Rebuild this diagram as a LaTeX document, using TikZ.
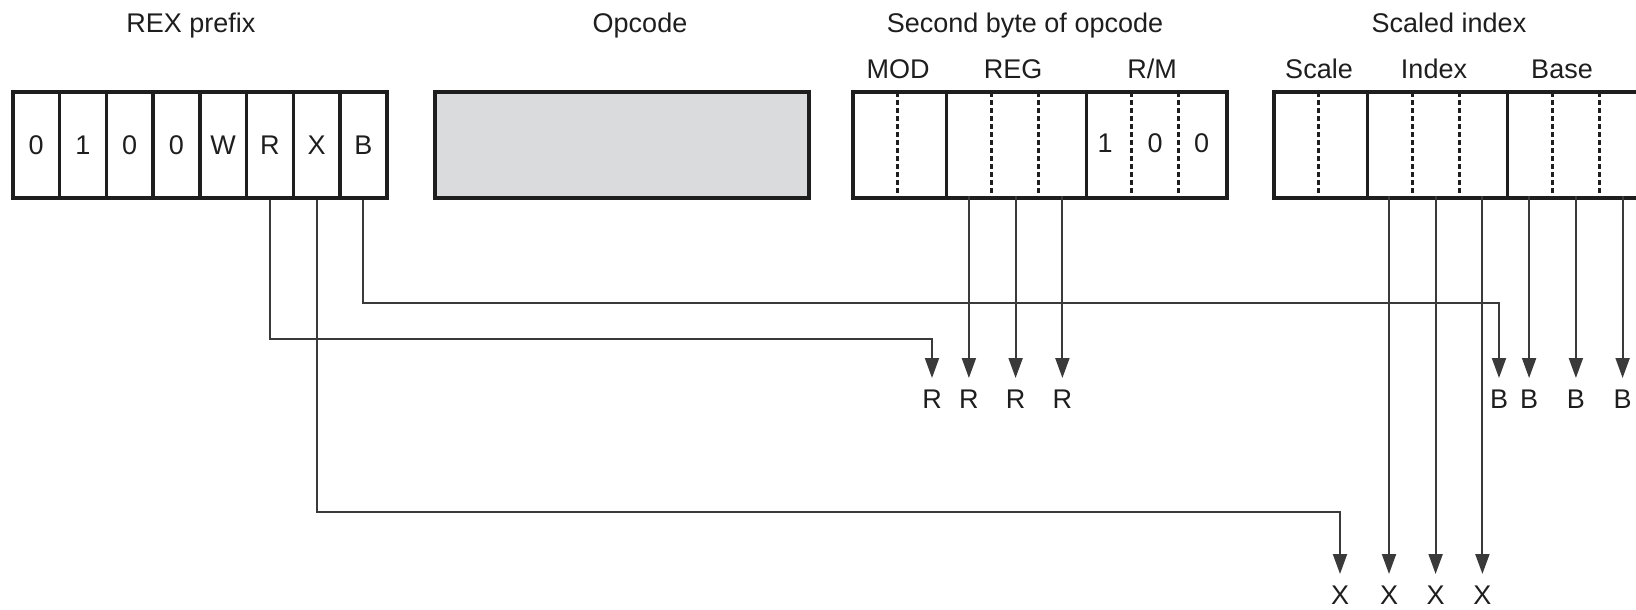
\documentclass[tikz,border=0pt]{standalone}
\usepackage{fontspec}
\setmainfont{Liberation Sans}
\usetikzlibrary{arrows.meta}
\definecolor{ink}{HTML}{1E1E1E}
\definecolor{wire}{HTML}{3A3A3A}
\definecolor{opfill}{HTML}{DADBDC}
\begin{document}
\begin{tikzpicture}[x=1pt,y=-1pt,
  every node/.style={font=\fontsize{27}{32}\selectfont, text=ink},
  cell/.style={draw=ink, line width=3.5pt, minimum width=46.75pt, minimum height=106pt, inner sep=0pt, anchor=north west},
  field/.style={cell, minimum width=#1},
  sep/.style={draw=ink, line width=3pt, dash pattern=on 5pt off 3pt},
  conn/.style={draw=wire, line width=2pt},
  arr/.style={conn, -{Triangle[length=20pt,width=14pt]}},
  lbl/.style={inner sep=0pt, outer ysep=11.5pt, anchor=north},
  ttl/.style={anchor=base},
]
\path[use as bounding box] (0,0) rectangle (1636,610);
\clip (0,0) rectangle (1636,610);

% titles
\node[ttl] (tRex) at (191,33) {REX prefix};
\node[ttl] (tOp) at (640,33) {Opcode};
\node[ttl] (tSec) at (1025,33) {Second byte of opcode};
\node[ttl] (tSib) at (1449,33) {Scaled index};
\node[ttl] (tMod) at (898,78) {MOD};
\node[ttl] (tReg) at (1013,78) {REG};
\node[ttl] (tRm) at (1152,78) {R/M};
\node[ttl] (tScale) at (1319,78) {Scale};
\node[ttl] (tIndex) at (1434,78) {Index};
\node[ttl] (tBase) at (1562,78) {Base};

% REX prefix
\foreach \t [count=\i] in {0,1,0,0,W,R,X,B}
  \node[cell] (r\i) at ({11+(\i-1)*46.75},90) {\t};

% Opcode
\node[field=374pt, fill=opfill] (op) at (433,90) {};

% Second byte of opcode
\node[field=93.5pt] (mod) at (851,90) {};
\node[field=140.25pt] (reg) at (944.5,90) {};
\node[field=140.25pt] (rm) at (1084.75,90) {};
\foreach \x in {897.75,991.25,1038,1131.5,1178.25}
  \draw[sep] (\x,92) -- (\x,194);
\node (m1) at (1105,143) {1};
\node (m2) at (1155,143) {0};
\node (m3) at (1201.5,143) {0};

% Scaled index
\node[field=93.5pt] (scale) at (1272,90) {};
\node[field=140.25pt] (index) at (1365.5,90) {};
\node[field=140.25pt] (base) at (1505.75,90) {};
\foreach \x in {1318.75,1412.25,1459,1552.5,1599.25}
  \draw[sep] (\x,92) -- (\x,194);

% source points of the bit arrows
\foreach \x [count=\i] in {968.9,1015.6,1062.4}
  \coordinate (g\i) at (\x,196);
\foreach \x [count=\i] in {1389,1435.6,1482.4}
  \coordinate (x\i) at (\x,196);
\foreach \x [count=\i] in {1529.1,1575.9,1622.6}
  \coordinate (s\i) at (\x,196);

% labels
\node[lbl] (lr0) at (932,378) {R};
\foreach \i in {1,2,3} \node[lbl] (lr\i) at (g\i |- 0,378) {R};
\node[lbl] (lb0) at (1499,378) {B};
\foreach \i in {1,2,3} \node[lbl] (lb\i) at (s\i |- 0,378) {B};
\node[lbl] (lx0) at (1340,574) {X};
\foreach \i in {1,2,3} \node[lbl] (lx\i) at (x\i |- 0,574) {X};

% bends
\coordinate (cR) at (932,339);
\coordinate (cB) at (1499,303);
\coordinate (cX) at (1340,512);

% connectors from REX bits
\draw[arr] (r6.south) |- (cR) -- (lr0.north);
\draw[arr] (r8.south) |- (cB) -- (lb0.north);
\draw[arr] (r7.south) |- (cX) -- (lx0.north);

% connectors from fields
\foreach \i in {1,2,3} {
  \draw[arr] (g\i) -- (lr\i.north);
  \draw[arr] (s\i) -- (lb\i.north);
  \draw[arr] (x\i) -- (lx\i.north);
}
\end{tikzpicture}
\end{document}
